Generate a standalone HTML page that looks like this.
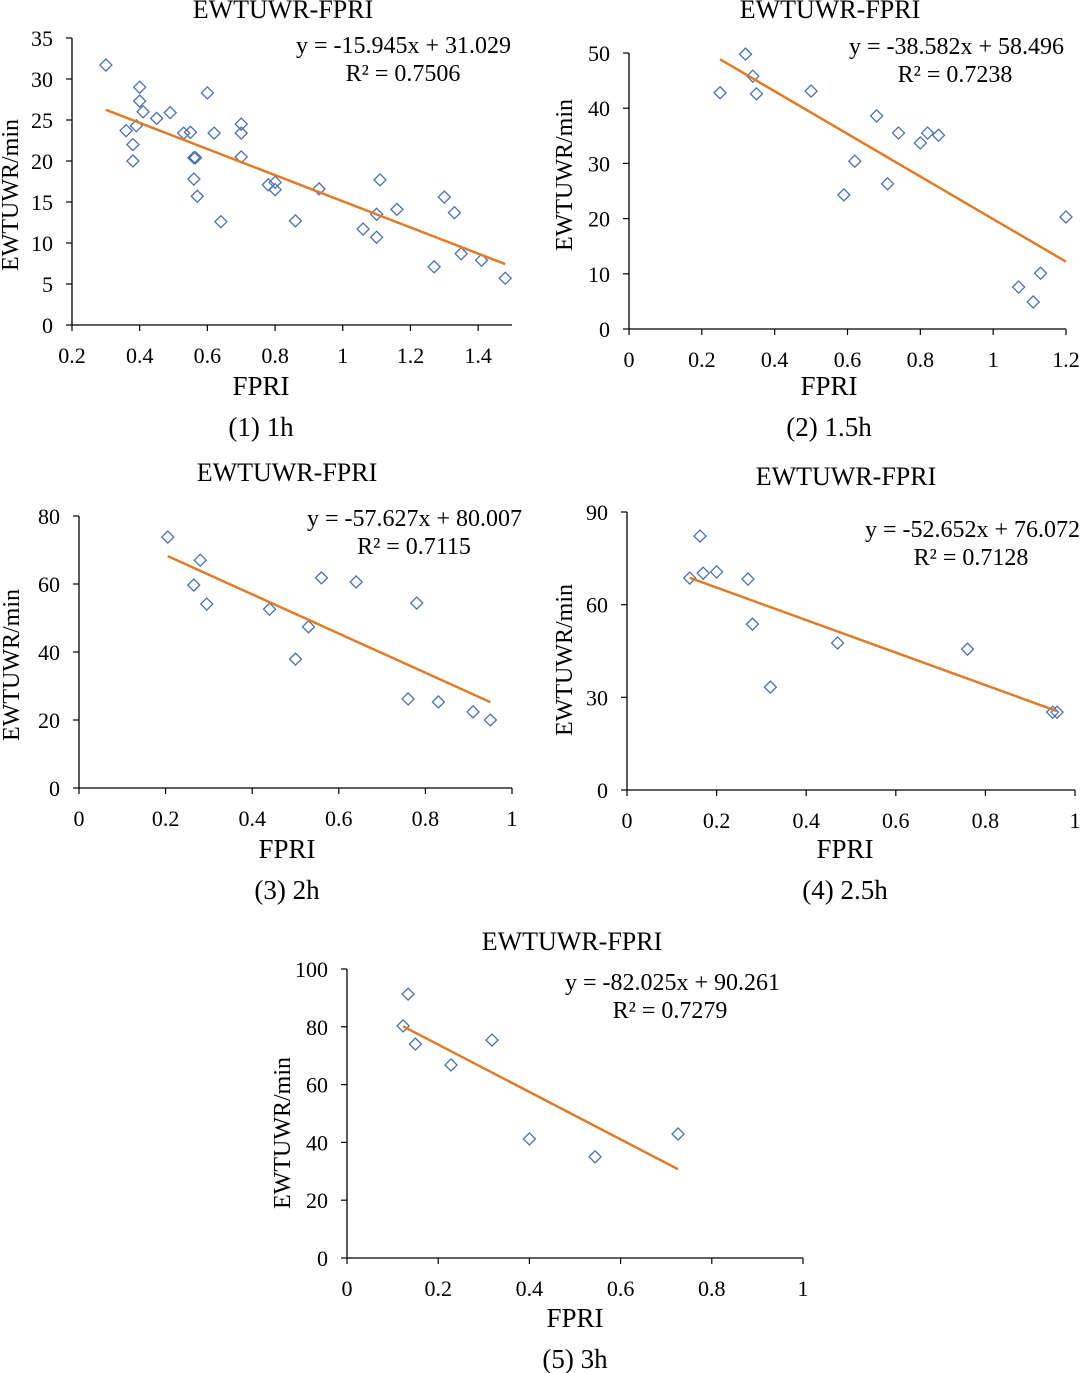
<!DOCTYPE html>
<html><head><meta charset="utf-8">
<style>
html,body{margin:0;padding:0;background:#fff;}
svg{display:block;font-family:"Liberation Serif",serif;}
</style></head>
<body>
<svg id="fig" width="1080" height="1373" viewBox="0 0 1080 1373" xmlns="http://www.w3.org/2000/svg"></svg>
<script>
// Chart 1 (1h)
const c1X = [0.30,0.40,0.40,0.41,0.39,0.36,0.38,0.38,0.45,0.49,0.53,0.55,0.60,0.62,0.70,0.70,0.56,0.565,0.70,0.56,0.57,0.64,0.78,0.80,0.80,0.93,0.86,1.11,1.16,1.10,1.06,1.10,1.30,1.33,1.35,1.27,1.41,1.48];
const c1Y = [31.7,29.0,27.3,26.0,24.3,23.7,22.0,20.0,25.2,25.9,23.4,23.5,28.3,23.4,24.5,23.4,20.4,20.4,20.5,17.8,15.7,12.6,17.1,17.4,16.5,16.6,12.7,17.7,14.1,13.5,11.7,10.7,15.6,13.7,8.7,7.1,7.9,5.7];
const c1Fit = [-15.945,31.029];
const c1XTicks = ["0.2","0.4","0.6","0.8","1","1.2","1.4"];
const c1YTicks = ["0","5","10","15","20","25","30","35"];
// Chart 2 (1.5h)
const c2X = [0.32,0.34,0.35,0.25,0.50,0.68,0.74,0.82,0.85,0.80,0.62,0.71,0.59,1.20,1.13,1.07,1.11];
const c2Y = [49.8,45.8,42.6,42.8,43.1,38.6,35.5,35.5,35.1,33.7,30.4,26.3,24.3,20.3,10.1,7.6,4.9];
const c2Fit = [-38.582,58.496];
const c2XTicks = ["0","0.2","0.4","0.6","0.8","1","1.2"];
const c2YTicks = ["0","10","20","30","40","50"];
// Chart 3 (2h)
const c3X = [0.205,0.28,0.265,0.295,0.44,0.53,0.50,0.56,0.64,0.78,0.76,0.83,0.91,0.95];
const c3Y = [73.8,67.0,59.7,54.1,52.6,47.4,37.9,61.8,60.6,54.4,26.2,25.3,22.4,20.0];
const c3Fit = [-57.627,80.007];
const c3XTicks = ["0","0.2","0.4","0.6","0.8","1"];
const c3YTicks = ["0","20","40","60","80"];
// Chart 4 (2.5h)
const c4X = [0.163,0.14,0.17,0.20,0.27,0.28,0.32,0.47,0.76,0.95,0.96];
const c4Y = [82.2,68.6,70.2,70.6,68.3,53.7,33.3,47.6,45.6,25.2,25.2];
const c4Fit = [-52.652,76.072];
const c4XTicks = ["0","0.2","0.4","0.6","0.8","1"];
const c4YTicks = ["0","30","60","90"];
// Chart 5 (3h)
const c5X = [0.134,0.123,0.15,0.228,0.318,0.40,0.544,0.726];
const c5Y = [91.3,80.3,74.0,66.8,75.4,41.2,35.0,42.9];
const c5Fit = [-82.025,90.261];
const c5XTicks = ["0","0.2","0.4","0.6","0.8","1"];
const c5YTicks = ["0","20","40","60","80","100"];

const NS="http://www.w3.org/2000/svg";
const svg=document.getElementById('fig');
function mk(tag,attrs,parent,text){const e=document.createElementNS(NS,tag);for(const k in attrs)e.setAttribute(k,attrs[k]);if(text!==undefined)e.textContent=text;(parent||svg).appendChild(e);return e;}

function chart(id,L,xs,ys,fit,xt,yt){
  const g=mk('g',{});
  
  
  const yMax=parseFloat(yt[yt.length-1]);
  const sx=v=>L.px0+(v-L.xMin)/(L.xMax-L.xMin)*(L.px1-L.px0);
  const sy=v=>L.py0-(v/yMax)*(L.py0-L.py1);
  const xa=mk('line',{x1:L.px0,y1:L.py0,x2:L.px1,y2:L.py0,stroke:'#000','stroke-width':1.3},g);
  
  
  const ya=mk('line',{x1:L.px0,y1:L.py0,x2:L.px0,y2:L.py1,stroke:'#000','stroke-width':1.3},g);
  
  
  xt.forEach(t=>{const x=sx(parseFloat(t));
    mk('line',{x1:x,y1:L.py0,x2:x,y2:L.py0+6,stroke:'#000','stroke-width':1.2},g);
    const tx=mk('text',{x:x,y:L.py0+38,'text-anchor':'middle','font-size':22},g,t);
    
    });
  yt.forEach(t=>{const y=sy(parseFloat(t));
    mk('line',{x1:L.px0-6,y1:y,x2:L.px0,y2:y,stroke:'#000','stroke-width':1.2},g);
    const tx=mk('text',{x:L.px0-19,y:y+8,'text-anchor':'end','font-size':22},g,t);
    
    });
  xs.forEach((v,i)=>{const cx=sx(v),cy=sy(ys[i]),r=6;
    const p=mk('polygon',{points:`${cx},${cy-r} ${cx+r},${cy} ${cx},${cy+r} ${cx-r},${cy}`,fill:'none',stroke:'#4a72b0','stroke-width':1.3},g);
    
    });
  const lo=Math.min(...xs),hi=Math.max(...xs);
  const tl=mk('line',{x1:sx(lo),y1:sy(fit[0]*lo+fit[1]),x2:sx(hi),y2:sy(fit[0]*hi+fit[1]),stroke:'#e07b2a','stroke-width':2.5},g);
  
  
  const tt=mk('text',{x:L.tx,y:L.ty,'text-anchor':'middle','font-size':26},g,'EWTUWR-FPRI');
  
  
  const eq=mk('text',{x:L.ex,y:L.ey,'text-anchor':'end','font-size':24},g,L.eq);
  
  
  const r2=mk('text',{x:L.rx,y:L.ey+28,'text-anchor':'middle','font-size':24},g,L.r2);
  
  
  const xl=mk('text',{x:L.fx,y:L.fy,'text-anchor':'middle','font-size':27},g,'FPRI');
  
  
  const cp=mk('text',{x:L.fx,y:L.fy+41,'text-anchor':'middle','font-size':27},g,L.cap);
  
  
  const yl=mk('text',{x:0,y:0,'text-anchor':'middle','font-size':24,transform:`translate(${L.yx},${L.yy}) rotate(-90)`},g,'EWTUWR/min');
  
  
}
chart('1h',{px0:72,px1:512,xMin:0.2,xMax:1.5,py0:325,py1:38,tx:283,ty:18,ex:511,ey:53,rx:403,eq:'y = -15.945x + 31.029',r2:'R² = 0.7506',fx:261,fy:395,cap:'(1) 1h',yx:18,yy:195},c1X,c1Y,c1Fit,c1XTicks,c1YTicks);
chart('1-5h',{px0:629,px1:1066,xMin:0,xMax:1.2,py0:329,py1:53,tx:830,ty:18,ex:1064,ey:54,rx:955,eq:'y = -38.582x + 58.496',r2:'R² = 0.7238',fx:829,fy:395,cap:'(2) 1.5h',yx:572,yy:175},c2X,c2Y,c2Fit,c2XTicks,c2YTicks);
chart('2h',{px0:79,px1:512,xMin:0,xMax:1,py0:788,py1:516,tx:287,ty:481,ex:522,ey:526,rx:414,eq:'y = -57.627x + 80.007',r2:'R² = 0.7115',fx:287,fy:858,cap:'(3) 2h',yx:19,yy:665},c3X,c3Y,c3Fit,c3XTicks,c3YTicks);
chart('2-5h',{px0:627,px1:1075,xMin:0,xMax:1,py0:790,py1:512,tx:846,ty:485,ex:1080,ey:537,rx:971,eq:'y = -52.652x + 76.072',r2:'R² = 0.7128',fx:845,fy:858,cap:'(4) 2.5h',yx:572,yy:660},c4X,c4Y,c4Fit,c4XTicks,c4YTicks);
chart('3h',{px0:347,px1:803,xMin:0,xMax:1,py0:1258,py1:969,tx:572,ty:950,ex:780,ey:990,rx:670,eq:'y = -82.025x + 90.261',r2:'R² = 0.7279',fx:575,fy:1327,cap:'(5) 3h',yx:290,yy:1133},c5X,c5Y,c5Fit,c5XTicks,c5YTicks);
</script>
</body></html>
